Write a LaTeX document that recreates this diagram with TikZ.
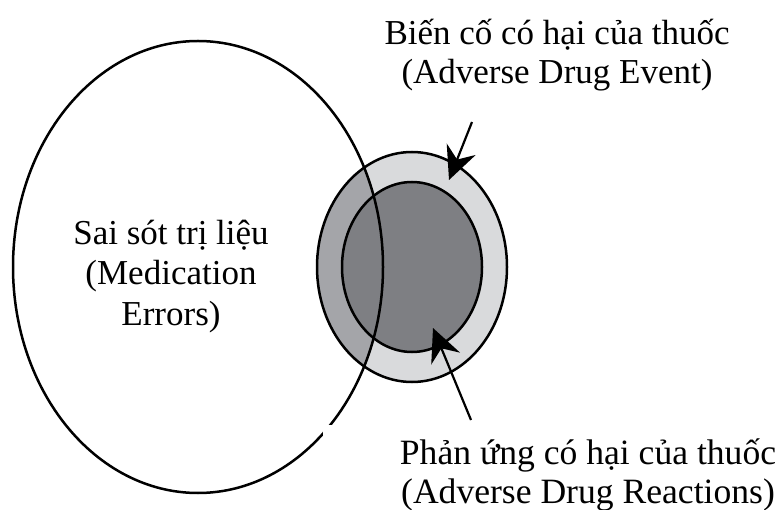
\documentclass[tikz,border=0pt]{standalone}
\usepackage{fontspec}
\setmainfont{Liberation Serif}
\usetikzlibrary{arrows.meta}
\definecolor{ringlight}{HTML}{D9DADC}
\definecolor{ringmid}{HTML}{A4A5A9}
\definecolor{coredark}{HTML}{7E7F83}
\tikzset{
  outline/.style={draw=black, line width=2.5pt},
  pointer/.style={draw=black, line width=2.2pt, -{Stealth[length=33pt,width=31pt,inset=11pt]}},
  toptext/.style={font=\fontsize{35}{39.5}\selectfont, align=center, anchor=base, inner sep=0pt},
  midtext/.style={font=\fontsize{35}{40.5}\selectfont, align=center, anchor=base, inner sep=0pt},
  lowtext/.style={font=\fontsize{35.6}{39}\selectfont, align=center, anchor=base, inner sep=0pt}
}
\begin{document}
\begin{tikzpicture}[x=1pt,y=-1pt]
\useasboundingbox (0,0) rectangle (778,510);
\fill[white] (0,0) rectangle (778,510);
% fills
\fill[ringlight] (412,267) ellipse [x radius=95pt, y radius=115pt];
\begin{scope}
  \clip (198,267) ellipse [x radius=185pt, y radius=226pt];
  \fill[ringmid] (412,267) ellipse [x radius=95pt, y radius=115pt];
\end{scope}
\fill[coredark] (412,267) ellipse [x radius=70pt, y radius=85pt];
% outlines
\draw[outline] (198,267) ellipse [x radius=185pt, y radius=226pt];
\draw[outline] (412,267) ellipse [x radius=95pt, y radius=115pt];
\draw[outline] (412,267) ellipse [x radius=70pt, y radius=85pt];
% white patch behind the lower label
\fill[white] (323,425) rectangle (778,510);
% arrows
\coordinate (adeS) at (472,122);
\coordinate (adeE) at (449,180);
\coordinate (adrS) at (471,420);
\coordinate (adrE) at (433,328);
\draw[pointer] (adeS) -- (adeE);
\draw[pointer] (adrS) -- (adrE);
% labels (anchor at baseline of last line)
\node[toptext] (ade) at (557,84) {Biến cố có hại của thuốc\\(Adverse Drug Event)};
\node[midtext] (me) at (171,325) {Sai sót trị liệu\\(Medication\\Errors)};
\node[lowtext] (adr) at (588,503) {Phản ứng có hại của thuốc\\(Adverse Drug Reactions)};
\end{tikzpicture}
\end{document}
